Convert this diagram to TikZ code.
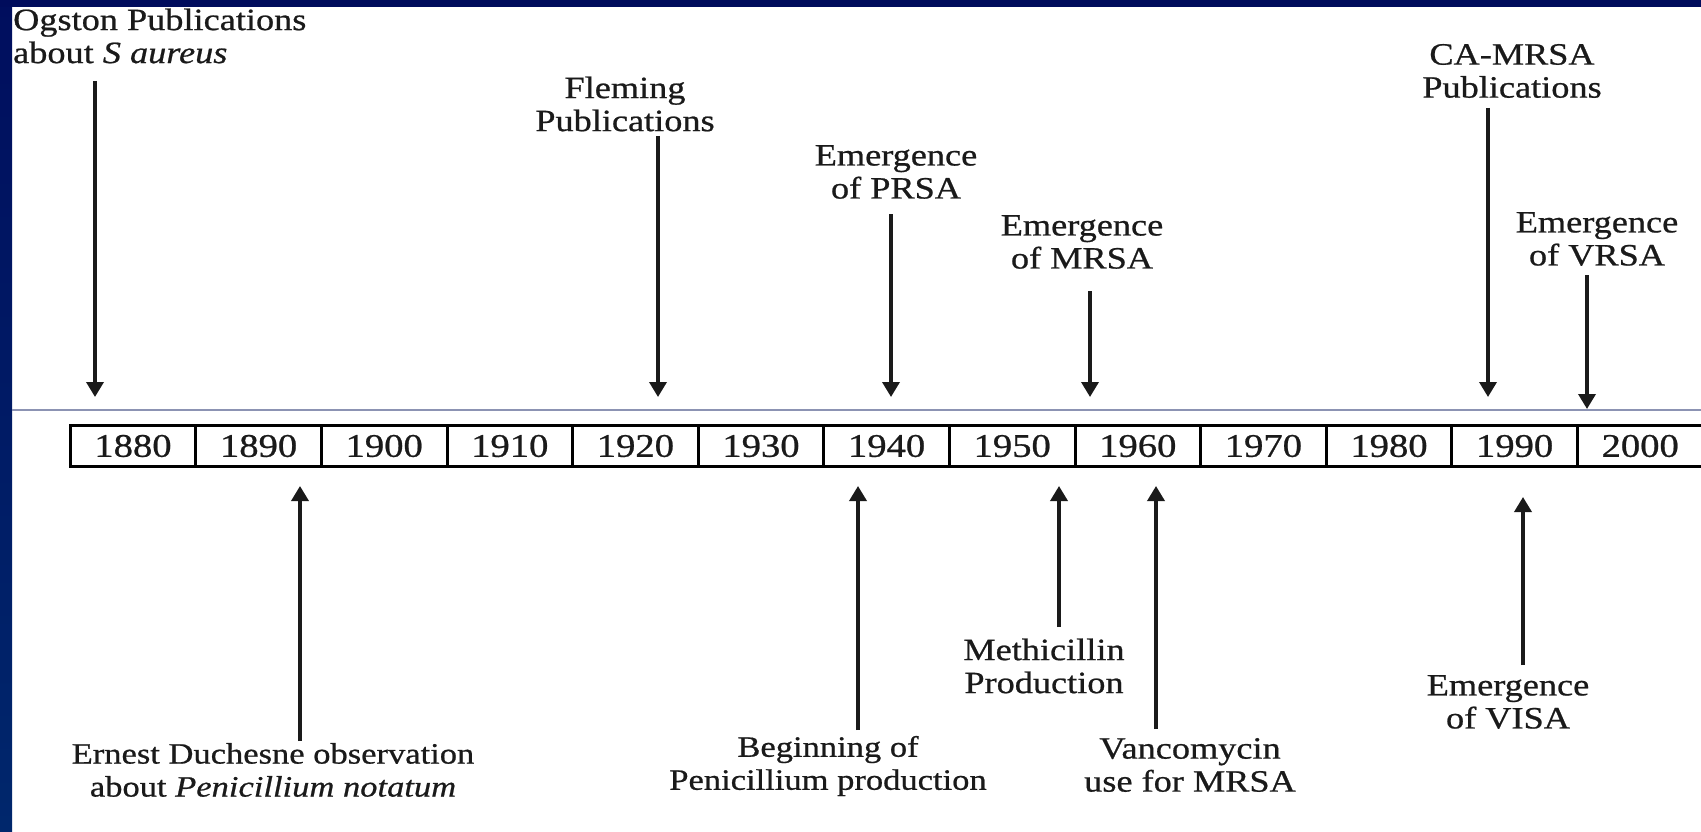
\documentclass[tikz,border=0pt]{standalone}
\usepackage{fontspec}
\setmainfont{Liberation Serif}[FakeStretch=1.17, FakeBold=0.7]
\usetikzlibrary{arrows.meta}
\definecolor{navytop}{HTML}{000C5C}
\definecolor{navyleftA}{HTML}{000E5E}
\definecolor{navyleftB}{HTML}{00276C}
\definecolor{rulecol}{HTML}{8C93B3}
\definecolor{ink}{HTML}{1A1A1A}
\begin{document}
\begin{tikzpicture}[x=1pt,y=-1pt,
  lbl/.style={font=\fontsize{31}{33}\selectfont, text=ink, align=center, inner sep=0pt},
  lblsm/.style={lbl, font=\fontsize{29.5}{33}\selectfont},
  arr/.style={draw=ink, line width=3.5pt, -{Triangle[width=17pt,length=15pt]}},
  cell/.style={draw=black, line width=3pt, minimum width=125.6pt, minimum height=41pt,
    inner sep=0pt, font=\fontsize{33}{35}\selectfont, text=ink}]
\useasboundingbox (0,0) rectangle (1701,832);
\fill[white] (0,0) rectangle (1701,832);
% frame bands
\shade[top color=navyleftA, bottom color=navyleftB] (0,0) rectangle (12,832);
\fill[navytop] (0,0) rectangle (1701,7);
% rule
\draw[rulecol, line width=1.5pt] (12,410) -- (1701,410);
% year cells
\foreach \yr [count=\i from 0] in {1880,1890,1900,1910,1920,1930,1940,1950,1960,1970,1980,1990,2000}
  \node[cell] (y\yr) at ({133+125.6*\i},446) {\yr};
% top labels
\node[lbl, anchor=west, align=left] (og) at (13,36) {Ogston Publications\\about \textit{S aureus}};
\node[lbl] (fl) at (625,104) {Fleming\\Publications};
\node[lbl] (pr) at (896,172) {Emergence\\of PRSA};
\node[lbl] (mr) at (1082,242) {Emergence\\of MRSA};
\node[lbl] (ca) at (1512,71) {CA-MRSA\\Publications};
\node[lbl] (vr) at (1597,239) {Emergence\\of VRSA};
% bottom labels
\node[lblsm] (ed) at (273,770) {Ernest Duchesne observation\\about \textit{Penicillium notatum}};
\node[lblsm] (bp) at (828,766) {Beginning of\\Penicillium production};
\node[lbl] (me) at (1044,666) {Methicillin\\Production};
\node[lbl] (va) at (1190,765) {Vancomycin\\use for MRSA};
\node[lbl] (vi) at (1508,702) {Emergence\\of VISA};
% arrow ends
\coordinate (ogA) at (95,81);   \coordinate (ogB) at (95,397);
\coordinate (flA) at (658,136); \coordinate (flB) at (658,397);
\coordinate (prA) at (891,214); \coordinate (prB) at (891,397);
\coordinate (mrA) at (1090,291);\coordinate (mrB) at (1090,397);
\coordinate (caA) at (1488,108);\coordinate (caB) at (1488,397);
\coordinate (vrA) at (1587,275);\coordinate (vrB) at (1587,409);
\coordinate (edA) at (300,741); \coordinate (edB) at (300,486);
\coordinate (bpA) at (858,730); \coordinate (bpB) at (858,486);
\coordinate (meA) at (1059,627);\coordinate (meB) at (1059,486);
\coordinate (vaA) at (1156,729);\coordinate (vaB) at (1156,486);
\coordinate (viA) at (1523,665);\coordinate (viB) at (1523,497);
\foreach \a in {og,fl,pr,mr,ca,vr,ed,bp,me,va,vi}
  \draw[arr] (\a A) -- (\a B);
\end{tikzpicture}
\end{document}
